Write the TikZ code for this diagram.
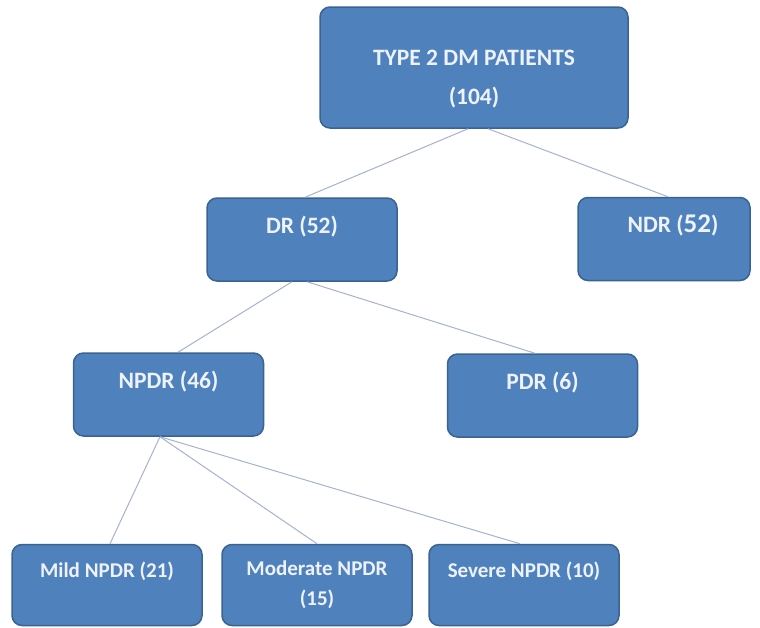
\documentclass[tikz,border=0pt]{standalone}
\usepackage{fontspec}
\setmainfont{Carlito}
\usepackage{tikz}

\definecolor{boxblue}{RGB}{79,129,189}
\definecolor{boxedge}{RGB}{58,98,146}
\definecolor{linkblue}{RGB}{165,178,208}
\definecolor{boxtext}{RGB}{238,243,251}

\begin{document}
\begin{tikzpicture}[x=1pt,y=-1pt,
  box/.style={draw=boxedge,line width=1.5pt,fill=boxblue,rounded corners=10pt,
    text=boxtext,font=\fontsize{23.5}{30}\selectfont\bfseries,align=center,
    minimum width=190pt,minimum height=83pt,inner sep=0pt},
  small/.style={font=\fontsize{21}{30}\selectfont\bfseries,minimum height=81pt},
  link/.style={draw=linkblue,line width=1pt}]
  \useasboundingbox (0,0) rectangle (760,627);
  \node [box,minimum width=308pt,minimum height=121pt] (t) at (474,67.5) {~\\[8pt]TYPE 2 DM PATIENTS\\[9pt](104)};
  \node [box] (dr) at (302,239.5) {DR (52)\\~};
  \node [box,minimum width=172pt] (ndr) at (664,239) {\hspace*{18pt}NDR ({\fontsize{27}{30}\selectfont 52})\\~};
  \node [box] (npdr) at (168.5,394.5) {NPDR (46)\\~};
  \node [box] (pdr) at (542.5,395.5) {PDR (6)\\~};
  \node [box,small] (mild) at (107,585) {Mild NPDR (21)\\~};
  \node [box,small] (mod) at (317,585) {Moderate NPDR\\(15)};
  \node [box,small] (sev) at (524,585) {Severe NPDR (10)\\~};
  \draw [link] ([xshift=-6pt]t.south) -- ([xshift=3pt]dr.north);
  \draw [link] ([xshift=14pt]t.south) -- ([xshift=4pt]ndr.north);
  \draw [link] ([xshift=-10pt]dr.south) -- ([xshift=9.5pt]npdr.north);
  \draw [link] ([xshift=5pt]dr.south) -- ([xshift=-7.5pt]pdr.north);
  \draw [link] ([xshift=-8.5pt]npdr.south) -- ([xshift=3pt]mild.north);
  \draw [link] ([xshift=-8.5pt]npdr.south) -- (mod.north);
  \draw [link] ([xshift=-8.5pt]npdr.south) -- ([xshift=-4pt]sev.north);
\end{tikzpicture}
\end{document}
